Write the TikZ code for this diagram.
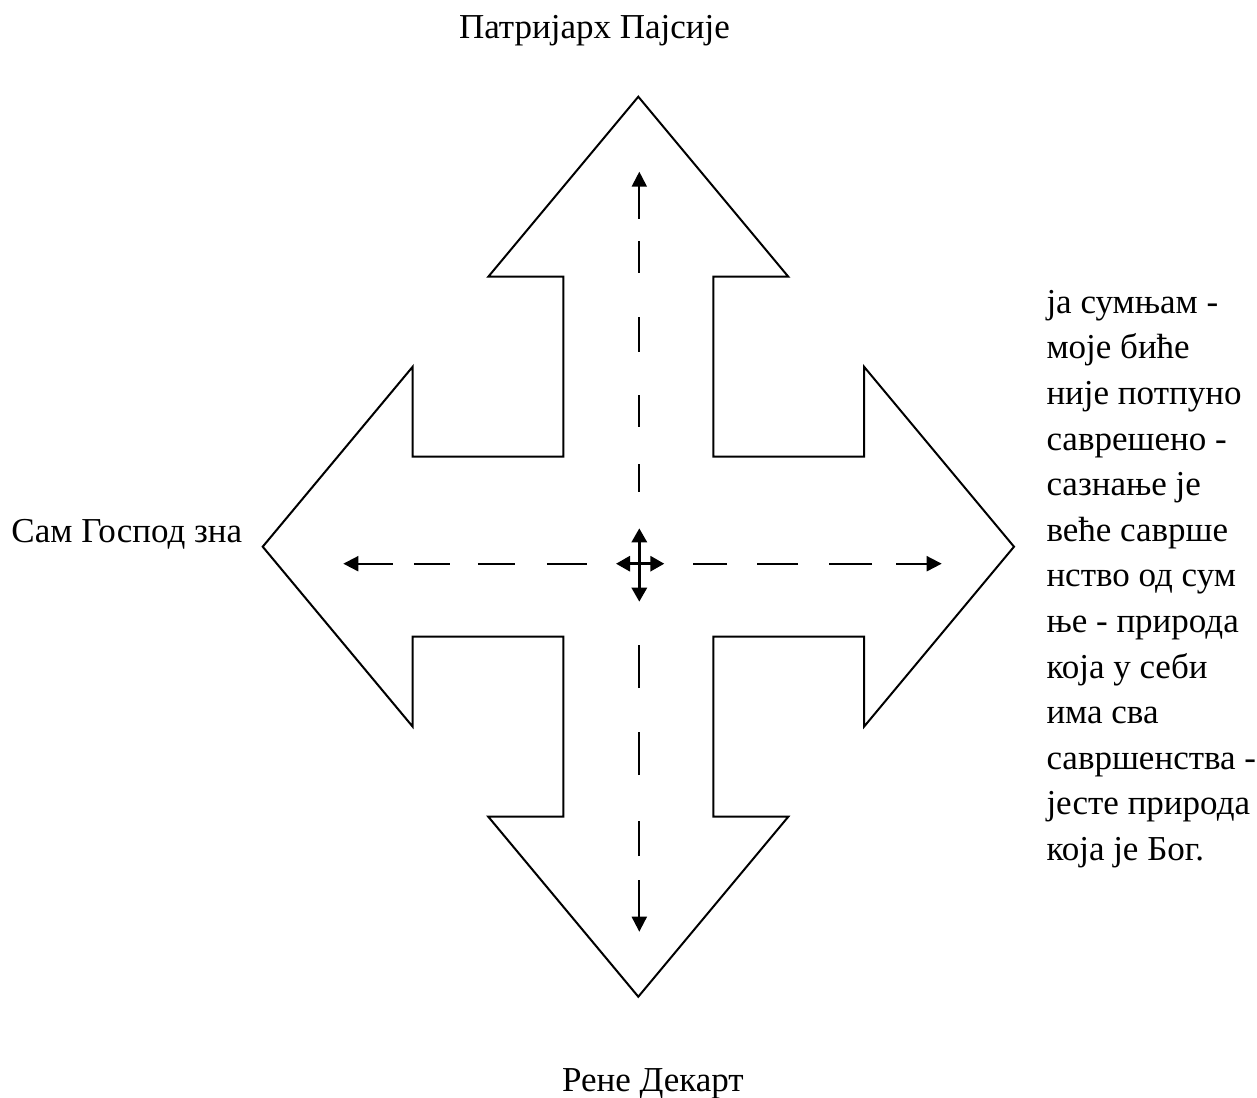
\documentclass[tikz,border=0pt]{standalone}
\usepackage{fontspec}
\setmainfont{Liberation Serif}
\usetikzlibrary{arrows.meta}
\begin{document}
\begin{tikzpicture}[x=1pt,y=-1pt,
  outline/.style={draw=black,line width=2pt,line join=miter,fill=white},
  dashline/.style={line width=2pt,{Triangle[length=15pt,width=15pt]}-},
  crossline/.style={line width=3pt,{Triangle[length=14pt,width=15pt]}-{Triangle[length=14pt,width=15pt]}},
  lbl/.style={inner sep=0pt,outer sep=0pt,font=\fontsize{35}{45.6}\selectfont,anchor=base west}]
\useasboundingbox[fill=white] (0,0) rectangle (1257,1097);
% four-way arrow outline
\draw[outline] (638.3,96.7) -- (788.3,276.7) -- (713.3,276.7) -- (713.3,456.7)
  -- (864,456.7) -- (864,366.7) -- (1014,546.7) -- (864,726.7) -- (864,636.7)
  -- (713.3,636.7) -- (713.3,816.7) -- (788.3,816.7) -- (638.3,996.7)
  -- (488.3,816.7) -- (563.3,816.7) -- (563.3,636.7) -- (412.7,636.7)
  -- (412.7,726.7) -- (262.7,546.7) -- (412.7,366.7) -- (412.7,456.7)
  -- (563.3,456.7) -- (563.3,276.7) -- (488.3,276.7) -- cycle;
% tips and centre ends of the dashed arrows
\coordinate (tT) at (639.3,171.7);
\coordinate (cT) at (639.3,528.3);
\coordinate (tB) at (639.3,931.7);
\coordinate (cB) at (639.3,601.7);
\coordinate (tL) at (343.3,563.7);
\coordinate (cL) at (616,563.7);
\coordinate (tR) at (941.7,563.7);
\coordinate (cR) at (664.3,563.7);
% dashed arrows
\draw[dashline,dash pattern=on 33pt off 22pt on 32pt off 44pt on 35pt off 43pt on 32pt off 37pt on 28pt off 100pt] (tT) -- (cT);
\draw[dashline,dash pattern=on 37pt off 24pt on 35pt off 46pt on 43pt off 44pt on 43pt off 100pt] (tB) -- (cB);
\draw[dashline,dash pattern=on 35pt off 21pt on 36pt off 28pt on 37pt off 32pt on 40pt off 100pt] (tL) -- (cL);
\draw[dashline,dash pattern=on 31pt off 24pt on 43pt off 31pt on 41pt off 30pt on 34pt off 100pt] (tR) -- (cR);
% centre cross
\draw[crossline] (cT) -- (cB);
\draw[crossline] (cL) -- (cR);
% labels
\node[lbl] (top) at (459,38.3) {Патријарх Пајсије};
\node[lbl] (left) at (11.5,542.7) {Сам Господ зна};
\node[lbl] (bottom) at (562,1091.7) {Рене Декарт};
\foreach \t [count=\i from 0] in {ја сумњам -,моје биће,није потпуно,саврешено -,сазнање је,веће саврше,нство од сум,ње - природа,која у себи,има сва,савршенства -,јесте природа,која је Бог.}
  \node[lbl] (r\i) at (1046.5,313.3+45.6*\i) {\t};
\end{tikzpicture}
\end{document}
